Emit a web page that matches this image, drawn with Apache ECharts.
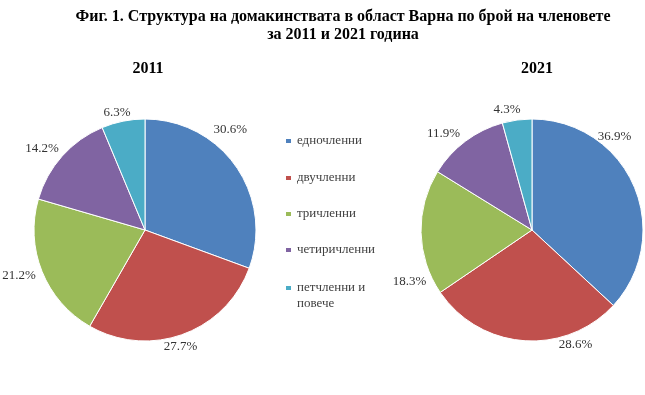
<!DOCTYPE html>
<html>
<head>
<meta charset="utf-8">
<script src="https://cdn.jsdelivr.net/npm/echarts@6/dist/echarts.min.js"></script>
<style>html,body{margin:0;padding:0;background:#fff}#c{width:645px;height:395px}</style>
</head>
<body>
<div id="c"></div>
<script>
const categories = ['едночленни', 'двучленни', 'тричленни', 'четиричленни', 'петчленни и повече'];
const values2011 = [30.6, 27.7, 21.2, 14.2, 6.3];
const values2021 = [36.9, 28.6, 18.3, 11.9, 4.3];
const years = ['2011', '2021'];
const colors = ['#4F81BD', '#C0504D', '#9BBB59', '#8064A2', '#4BACC6'];
const titleText = 'Фиг. 1. Структура на домакинствата в област Варна по брой на членовете\nза 2011 и 2021 година';

// layout: pie geometry and label placement (polar: angle in degrees, distance in px)
const pieCenters = [[145, 230], [532, 230]];
const pieRadius = 111;
const labelPolar = [
  [[49.7, 132], [-73.1, 122], [200.1, 134], [141.8, 131], [103.3, 121]],
  [[48.7, 125], [-69.3, 123], [203.0, 133], [132.7, 130.6], [101.8, 122.6]]
];

const serif = '"Liberation Serif", "Times New Roman", serif';
const chart = echarts.init(document.getElementById('c'), null, {renderer: 'canvas'});

function pieSeries(k, vals) {
  const c = pieCenters[k];
  return {
    type: 'pie', name: years[k], center: c, radius: pieRadius,
    startAngle: 90, clockwise: true, avoidLabelOverlap: false,
    data: categories.map((cat, i) => ({name: cat, value: vals[i]})),
    itemStyle: {borderColor: '#fff', borderWidth: 1},
    label: {show: true, position: 'outside', formatter: p => p.value.toFixed(1) + '%',
      fontFamily: serif, fontSize: 13, color: '#333'},
    labelLine: {show: false, length: 4, length2: 0},
    labelLayout: function (p) {
      const lp = labelPolar[k][p.dataIndex];
      const a = lp[0] * Math.PI / 180;
      return {x: c[0] + lp[1] * Math.cos(a), y: c[1] - lp[1] * Math.sin(a),
        align: 'center', verticalAlign: 'middle'};
    },
    emphasis: {disabled: true}
  };
}

const legendTops = [133, 170, 206, 242, 264];
const legends = categories.map((c, i) => ({
  orient: 'vertical', left: 284, top: legendTops[i], padding: 0,
  icon: 'rect', itemWidth: 7, itemHeight: 6, itemGap: 0,
  selectedMode: false,
  data: [c],
  formatter: n => n === 'петчленни и повече' ? '\nпетчленни и\nповече' : n,
  textStyle: {fontFamily: serif, fontSize: 13, color: '#404040', lineHeight: 16}
}));

chart.setOption({
  color: colors,
  animation: false,
  title: [
    {text: titleText, left: 338, top: 3, textAlign: 'center',
      textStyle: {fontFamily: serif, fontSize: 16, fontWeight: 'bold', color: '#000', lineHeight: 18}},
    {text: years[0], left: 143, top: 56, textAlign: 'center',
      textStyle: {fontFamily: serif, fontSize: 16, fontWeight: 'bold', color: '#000'}},
    {text: years[1], left: 532, top: 56, textAlign: 'center',
      textStyle: {fontFamily: serif, fontSize: 16, fontWeight: 'bold', color: '#000'}}
  ],
  legend: legends,
  series: [
    pieSeries(0, values2011),
    pieSeries(1, values2021)
  ]
});
</script>
</body>
</html>
